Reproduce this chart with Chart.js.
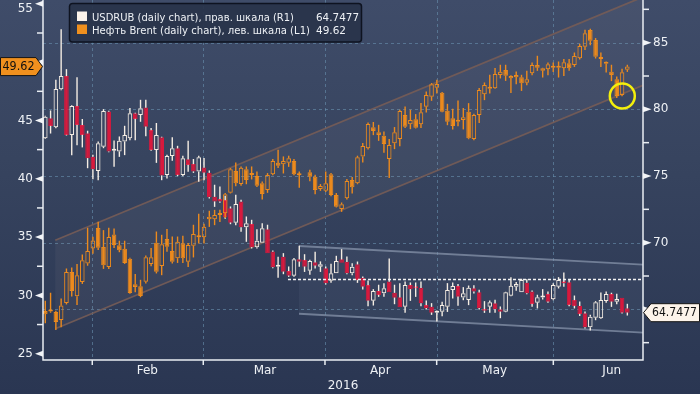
<!DOCTYPE html>
<html><head><meta charset="utf-8">
<script src="https://cdn.jsdelivr.net/npm/chart.js@4.4.1/dist/chart.umd.min.js"></script>
<style>html,body{margin:0;padding:0;background:#2c3955;}#wrap{width:700px;height:394px;}canvas{display:block;}</style>
</head><body><div id="wrap"><canvas id="c" width="700" height="394"></canvas></div>
<script>
// ---------- data ----------
const monthNames = ['Feb','Mar','Apr','May','Jun'];
const monthLabelPos = [19.28, 41.52, 63.31, 84.94, 107.05];
const monthStartPos = [8.88, 29.86, 52.86, 73.97, 96.01];
const yearLabel = '2016';
const leftTicks = [25,30,35,40,45,50,55];
const leftMinor = [27.5,32.5,37.5,42.5,47.5,52.5];
const rightTicks = [65,70,75,80,85];
const rightMinor = [62.5,67.5,72.5,77.5,82.5,87.5];

const rubName = 'USDRUB (daily chart), прав. шкала (R1)';
const brentName = 'Нефть Brent (daily chart), лев. шкала (L1)';

const rubOpen = [77.83,79.33,78.66,81.5,82.5,78.08,80.25,78.83,78.2,76.45,
75.38,77.2,79.83,76.9,76.83,77.58,77.83,79.7,79.58,80.13,
78.45,76.95,77.9,75.08,76.5,77.08,75.08,76.26,75.9,75.33,
75.63,75.25,73.45,73.28,73.2,72.58,71.5,73.08,71.15,71.4,
69.65,70.0,71.0,69.33,68.2,68.95,67.88,67.52,68.75,68.7,
67.9,68.53,68.2,68.08,67.15,67.7,68.75,68.57,67.7,68.38,
67.37,66.83,65.65,66.38,66.2,67.08,66.25,65.9,65.2,66.83,
66.63,66.62,65.33,65.2,64.75,64.82,65.2,66.45,66.75,65.88,
65.7,66.58,66.28,65.0,65.2,65.45,65.0,64.82,66.02,66.7,
66.28,67.0,66.33,65.5,65.88,66.15,65.75,66.7,67.05,67.03,
65.7,65.27,64.7,63.65,64.37,64.33,65.63,66.15,65.57,65.87,
65.08];
const rubHigh = [79.5,79.9,82.2,86.0,83.0,80.3,82.4,79.26,78.38,76.58,
77.58,80.0,79.88,77.65,77.95,78.75,80.08,79.73,80.7,80.7,
78.58,78.96,77.93,76.58,77.9,77.25,76.5,77.63,76.26,76.5,
76.33,75.4,74.33,74.2,73.5,72.7,73.58,73.2,71.95,71.7,
71.0,71.45,71.33,69.4,68.93,69.2,68.2,68.83,69.75,69.12,
68.7,69.3,68.58,68.2,68.4,69.0,69.5,68.95,68.45,68.57,
67.45,67.15,66.5,66.83,66.95,68.8,66.83,66.95,67.08,67.0,
67.0,67.08,65.65,65.45,64.9,65.55,66.95,67.0,66.88,66.65,
66.77,66.8,66.45,65.6,65.65,65.7,65.2,66.3,67.4,67.03,
67.28,67.25,66.4,66.08,66.5,66.33,66.95,67.4,67.75,67.2,
66.02,65.57,64.83,64.58,65.6,66.25,66.33,66.23,66.15,65.87,
65.4];
const rubLow = [77.8,78.2,78.6,81.45,78.05,76.58,77.33,77.16,75.6,74.78,
74.7,77.1,76.8,75.7,76.45,76.58,77.7,77.7,79.08,78.0,
76.9,76.0,74.7,74.83,76.15,75.0,75.0,75.33,75.25,74.58,
74.7,73.33,72.7,73.0,71.8,71.4,71.33,70.83,70.08,69.58,
69.58,70.0,69.2,68.1,67.38,67.65,67.45,67.45,68.2,67.82,
67.6,68.08,67.82,66.88,67.0,67.7,68.5,67.65,67.58,67.0,
66.5,65.25,65.3,65.95,65.95,66.28,65.4,65.15,64.75,65.65,
65.95,65.25,65.0,64.6,64.1,64.5,64.82,65.82,65.28,65.7,
65.33,66.2,65.0,64.75,64.75,64.75,64.35,64.8,66.0,66.4,
66.28,66.15,65.2,65.08,65.75,65.5,65.7,66.58,66.7,65.25,
65.08,64.52,63.58,63.43,64.2,64.3,65.5,65.2,65.4,64.7,
64.55];
const rubClose = [79.45,78.75,81.53,82.5,78.08,80.25,78.83,78.08,76.33,75.5,
77.46,79.88,76.83,76.95,77.65,78.08,79.7,79.28,80.08,78.7,
76.95,78.08,75.03,76.5,77.08,75.08,76.33,75.83,75.33,76.4,
75.25,73.4,73.08,73.08,71.9,71.5,72.9,71.15,71.45,69.65,
70.15,71.08,69.2,68.15,68.33,67.82,67.52,68.75,68.57,68.2,
68.63,68.27,68.38,66.95,67.7,68.63,68.5,67.7,68.2,67.2,
66.7,65.65,66.38,66.08,66.58,66.28,65.87,65.15,66.83,66.5,
66.58,65.45,65.08,64.75,64.87,65.33,66.45,66.75,65.95,66.2,
66.62,66.33,65.08,64.9,65.53,65.0,64.82,66.28,66.77,66.9,
67.2,66.2,65.4,65.9,66.0,65.57,66.83,67.2,66.95,65.33,
65.25,64.65,63.65,64.45,65.53,65.7,66.15,65.57,65.78,64.75,
64.7477];

const brentOpen = [28.66,28.62,28.58,27.89,29.35,32.01,29.92,31.15,32.74,34.02,
35.78,34.15,32.44,35.22,34.3,34.0,33.15,30.95,30.78,31.17,
32.69,34.52,32.52,34.84,33.81,33.18,34.47,32.89,34.26,34.98,
34.98,36.53,36.53,36.9,37.04,38.81,40.67,39.55,40.81,40.47,
40.24,39.61,39.04,40.39,41.38,41.24,41.38,41.53,40.41,null,
40.56,40.18,39.12,38.98,40.39,38.61,37.41,38.33,39.9,39.61,
41.9,42.62,44.42,43.99,43.7,41.7,43.04,43.41,45.47,44.67,
45.1,44.67,46.18,47.04,47.81,47.38,45.84,45.19,45.04,45.04,
45.75,43.41,45.47,47.25,47.73,47.76,48.9,49.33,48.62,48.9,
48.7,48.24,49.05,49.76,49.48,49.39,49.53,49.67,49.48,49.91,
49.76,50.33,51.33,52.76,51.9,50.38,49.87,49.18,48.53,47.19,
49.35];
const brentHigh = [29.52,30.21,28.66,29.72,32.29,32.38,32.67,33.49,35.78,35.01,
36.29,35.58,35.78,35.72,34.67,34.67,33.21,31.81,31.32,33.4,
34.04,35.46,35.18,35.67,35.03,35.03,35.09,34.47,36.04,36.98,
36.12,37.24,37.32,37.32,38.76,40.9,41.38,41.04,41.04,41.04,
40.61,39.75,40.47,41.67,42.47,41.9,41.96,41.67,40.61,null,
40.75,40.33,39.53,40.61,40.47,38.76,37.95,39.96,40.13,41.96,
43.04,44.81,44.85,44.61,44.04,43.39,44.42,45.9,46.18,45.9,
45.53,46.47,47.47,48.19,48.47,47.42,46.41,45.99,46.7,46.05,
46.47,45.56,47.76,48.24,48.9,49.48,49.76,49.76,48.86,49.18,
48.9,49.24,49.96,50.53,49.5,49.96,49.96,50.04,50.25,50.25,
50.81,51.56,52.76,52.85,52.05,50.81,50.04,49.76,48.76,49.42,
49.76];
const brentLow = [27.63,28.53,27.06,27.29,29.24,29.92,29.2,31.0,32.56,33.59,
33.92,32.29,32.29,34.09,33.72,32.72,30.16,30.29,29.86,31.04,
32.52,31.9,31.75,33.75,32.75,32.8,32.8,32.46,33.27,34.47,
34.47,35.89,36.04,36.32,36.66,38.76,39.38,39.41,39.55,39.96,
39.32,38.24,38.81,40.33,40.95,40.47,41.04,40.33,39.24,null,
39.81,38.7,38.98,38.89,38.52,37.56,37.18,38.24,38.76,39.55,
41.41,42.53,43.76,43.27,42.24,40.09,42.56,42.81,44.38,44.27,
44.33,44.38,45.7,46.7,47.33,45.73,44.61,44.25,44.53,44.25,
43.41,43.33,44.81,46.76,47.33,47.73,48.62,48.41,47.38,48.13,
47.55,48.04,48.9,49.27,48.7,48.9,49.18,48.7,48.84,49.27,
49.61,50.25,51.05,51.47,50.33,49.61,49.13,48.39,46.95,47.1,
49.18];
const brentClose = [28.38,28.68,27.72,29.13,32.01,30.38,31.72,33.01,33.81,34.71,
34.09,32.58,35.01,34.32,33.87,32.78,30.21,30.72,29.95,33.27,
33.27,32.03,34.38,34.18,32.89,34.6,33.18,34.32,35.27,35.09,
35.89,36.75,36.9,36.98,38.67,40.81,39.61,40.95,39.9,40.33,
39.41,38.7,40.33,41.53,41.12,41.53,41.76,40.39,40.3,null,
40.18,39.04,39.38,39.61,38.61,37.61,37.81,39.81,39.27,41.84,
42.81,44.7,44.1,43.76,42.98,42.9,43.99,45.81,44.47,45.04,
44.38,45.7,47.19,48.1,48.13,45.75,44.9,44.53,44.9,45.27,
43.47,45.47,47.61,48.04,47.81,48.99,49.18,48.84,48.82,48.7,
48.19,48.53,49.76,49.53,49.27,49.82,49.61,49.53,49.99,49.48,
50.53,51.39,52.48,51.84,50.47,50.27,49.96,48.9,47.1,49.13,
49.62];

// drawn annotations (data coordinates: candle index, axis value)
const brentChannel = {x0:1.89, x1:112.96, lower:[27.14,48.01], upper:[34.73,55.59]};
const rubChannel = {x0:47.95, x1:112.96, upper:[69.75,68.35], lower:[64.67,63.25]};
const rubResistance = {x0:45.87, x1:112.96, y:67.28};
const highlight = {x:109.05, y:47.1};

// ---------- styling ----------
const CREAM = '#f5ede3', RED = '#d8193d', ORANGE = '#ec8a1d', TXT = '#eef1f5';
const FONT = "'DejaVu Sans'";
const TOP_LABEL_MIN_Y = 9;

function buildCandles(O,H,L,C){
  const body=[], hi=[], lo=[];
  for(let i=0;i<O.length;i++){
    if(O[i]==null) continue;
    const top=Math.max(O[i],C[i]), bot=Math.min(O[i],C[i]), up=C[i]>=O[i];
    body.push({x:i,y:[O[i],C[i]],up});
    if(H[i]>top) hi.push({x:i,y:[top,H[i]]});
    if(L[i]<bot) lo.push({x:i,y:[L[i],bot]});
  }
  return {body,hi,lo};
}
const rub = buildCandles(rubOpen,rubHigh,rubLow,rubClose);
const brent = buildCandles(brentOpen,brentHigh,brentLow,brentClose);
const rubLast = rubClose[rubClose.length-1];
const brentLast = brentClose[brentClose.length-1];

function wickDs(data, axis, color, order){
  return {type:'bar', data, yAxisID:axis, xAxisID:'x', backgroundColor:color, borderWidth:0,
          barThickness:1, grouped:false, order, inflateAmount:0.2};
}
function bodyDs(label, data, axis, upColor, downColor, order){
  return {type:'bar', label, data, yAxisID:axis, xAxisID:'x',
    backgroundColor: c => (c.raw && c.raw.up) ? 'rgba(0,0,0,0)' : downColor,
    borderColor: c => (c.raw && c.raw.up) ? upColor : downColor,
    borderWidth:1, borderSkipped:false, inflateAmount:0,
    barThickness:4.6, minBarLength:2, grouped:false, order};
}

function hLine(ctx, a, y){ ctx.beginPath(); ctx.moveTo(a.left,y); ctx.lineTo(a.right,y); ctx.stroke(); }
function noPad(s){ s.paddingTop=0; s.paddingBottom=0; s.paddingLeft=0; s.paddingRight=0; }

const deco = {
  id:'deco',
  beforeDraw(chart){
    const {ctx, width, height} = chart;
    const g = ctx.createLinearGradient(0,0,0,height);
    g.addColorStop(0,'#3f4c69'); g.addColorStop(0.4,'#37445f'); g.addColorStop(1,'#2a3652');
    ctx.save(); ctx.fillStyle=g; ctx.fillRect(0,0,width,height); ctx.restore();
  },
  beforeDatasetsDraw(chart){
    const {ctx, chartArea:a, scales:{x, yL, yR}} = chart;
    ctx.save();
    ctx.beginPath(); ctx.rect(a.left,a.top,a.right-a.left,a.bottom-a.top); ctx.clip();
    ctx.strokeStyle='rgba(105,145,175,0.6)'; ctx.lineWidth=1; ctx.setLineDash([3,3]);
    rightTicks.forEach(v=>hLine(ctx,a,Math.round(yR.getPixelForValue(v))+0.5));
    monthStartPos.forEach(v=>{const px=Math.round(x.getPixelForValue(v))+0.5;
      ctx.beginPath(); ctx.moveTo(px,a.top); ctx.lineTo(px,a.bottom); ctx.stroke();});
    ctx.setLineDash([]);
    const bc = brentChannel;
    const P = (xi, v, s) => [x.getPixelForValue(xi), s.getPixelForValue(v)];
    let p1=P(bc.x0,bc.lower[0],yL), p2=P(bc.x1,bc.lower[1],yL), p3=P(bc.x1,bc.upper[1],yL), p4=P(bc.x0,bc.upper[0],yL);
    ctx.fillStyle='rgba(210,190,180,0.06)';
    ctx.beginPath(); ctx.moveTo(...p1); ctx.lineTo(...p2); ctx.lineTo(...p3); ctx.lineTo(...p4); ctx.closePath(); ctx.fill();
    ctx.strokeStyle='rgba(118,92,86,0.9)'; ctx.lineWidth=1.8;
    ctx.beginPath(); ctx.moveTo(...p1); ctx.lineTo(...p2); ctx.stroke();
    ctx.beginPath(); ctx.moveTo(...p4); ctx.lineTo(...p3); ctx.stroke();
    const rc = rubChannel;
    p1=P(rc.x0,rc.lower[0],yR); p2=P(rc.x1,rc.lower[1],yR); p3=P(rc.x1,rc.upper[1],yR); p4=P(rc.x0,rc.upper[0],yR);
    ctx.fillStyle='rgba(200,210,230,0.05)';
    ctx.beginPath(); ctx.moveTo(...p1); ctx.lineTo(...p2); ctx.lineTo(...p3); ctx.lineTo(...p4); ctx.closePath(); ctx.fill();
    ctx.strokeStyle='rgba(140,152,175,0.7)'; ctx.lineWidth=1.8;
    ctx.beginPath(); ctx.moveTo(...p1); ctx.lineTo(...p2); ctx.stroke();
    ctx.beginPath(); ctx.moveTo(...p4); ctx.lineTo(...p3); ctx.stroke();
    ctx.restore();
  },
  afterDatasetsDraw(chart){
    const {ctx, scales:{x, yL, yR}} = chart;
    ctx.save();
    const ry = Math.round(yR.getPixelForValue(rubResistance.y))+0.5;
    ctx.strokeStyle='#f4f4f4'; ctx.lineWidth=1.5; ctx.setLineDash([3,2]);
    ctx.beginPath(); ctx.moveTo(x.getPixelForValue(rubResistance.x0),ry); ctx.lineTo(x.getPixelForValue(rubResistance.x1),ry); ctx.stroke();
    ctx.setLineDash([]);
    ctx.strokeStyle='#f3ef0c'; ctx.lineWidth=2.5;
    ctx.beginPath(); ctx.arc(x.getPixelForValue(highlight.x), yL.getPixelForValue(highlight.y), 12.5, 0, Math.PI*2); ctx.stroke();
    ctx.restore();
  },
  afterDraw(chart){
    const {ctx, chartArea:a, scales:{x, yL, yR}} = chart;
    ctx.save();
    ctx.strokeStyle='#e9edf2'; ctx.fillStyle='#f2f4f7'; ctx.lineWidth=1.5;
    ctx.beginPath(); ctx.moveTo(a.left,a.top); ctx.lineTo(a.left,a.bottom); ctx.lineTo(a.right,a.bottom); ctx.lineTo(a.right,a.top); ctx.stroke();
    leftMinor.forEach(v=>{const y=yL.getPixelForValue(v); ctx.beginPath(); ctx.moveTo(a.left-6,y); ctx.lineTo(a.left,y); ctx.stroke();});
    rightMinor.forEach(v=>{const y=yR.getPixelForValue(v); ctx.beginPath(); ctx.moveTo(a.right,y); ctx.lineTo(a.right+6,y); ctx.stroke();});
    monthStartPos.forEach(v=>{const px=x.getPixelForValue(v); ctx.beginPath(); ctx.moveTo(px,a.bottom); ctx.lineTo(px,a.bottom+5); ctx.stroke();});
    leftTicks.forEach(v=>{const y=yL.getPixelForValue(v); ctx.beginPath(); ctx.moveTo(a.left-8,y); ctx.lineTo(a.left,y-3); ctx.lineTo(a.left,y+3); ctx.closePath(); ctx.fill();});
    rightTicks.forEach(v=>{const y=yR.getPixelForValue(v); ctx.beginPath(); ctx.moveTo(a.right,y-3); ctx.lineTo(a.right+8.5,y); ctx.lineTo(a.right,y+3); ctx.closePath(); ctx.fill();});
    // tick labels too close to the top edge are drawn slightly lower (as in the reference)
    ctx.font='12px '+FONT; ctx.textAlign='right'; ctx.textBaseline='middle'; ctx.fillStyle=TXT;
    leftTicks.forEach(v=>{const y=yL.getPixelForValue(v); if (y < TOP_LABEL_MIN_Y) ctx.fillText(String(v), a.left-10, TOP_LABEL_MIN_Y);});
    // last value labels
    ctx.lineWidth=1; ctx.strokeStyle='#151515';
    let cy = yL.getPixelForValue(brentLast);
    ctx.fillStyle='#f0901e';
    ctx.beginPath(); ctx.moveTo(0.5,cy-9); ctx.lineTo(36,cy-9); ctx.lineTo(a.left-0.5,cy); ctx.lineTo(36,cy+9); ctx.lineTo(0.5,cy+9); ctx.closePath(); ctx.fill(); ctx.stroke();
    ctx.fillStyle='#111'; ctx.font='12.5px '+FONT; ctx.textAlign='center'; ctx.textBaseline='middle';
    ctx.fillText(brentLast.toFixed(2), 18.5, cy+0.5, 32);
    cy = yR.getPixelForValue(rubLast);
    ctx.fillStyle='#fdf4ea';
    ctx.beginPath(); ctx.moveTo(a.right+0.5,cy); ctx.lineTo(651,cy-9); ctx.lineTo(699.5,cy-9); ctx.lineTo(699.5,cy+9); ctx.lineTo(651,cy+9); ctx.closePath(); ctx.fill(); ctx.stroke();
    ctx.fillStyle='#111';
    ctx.fillText(String(rubLast), 674.5, cy+0.5, 45);
    // legend
    ctx.fillStyle='rgba(40,51,74,0.92)'; ctx.strokeStyle='#0e1320'; ctx.lineWidth=1.5;
    ctx.beginPath();
    if (ctx.roundRect) ctx.roundRect(69.5,3.5,292,38.5,3); else ctx.rect(69.5,3.5,292,38.5);
    ctx.fill(); ctx.stroke();
    ctx.fillStyle='#fbf3ea'; ctx.fillRect(77,11.5,10,9.5);
    ctx.fillStyle='#f0901e'; ctx.fillRect(77,24.5,10,9.5);
    ctx.fillStyle=TXT; ctx.font='11px '+FONT; ctx.textAlign='left'; ctx.textBaseline='alphabetic';
    ctx.fillText(rubName, 92, 21, 202);
    ctx.fillText(brentName, 92, 34, 218);
    ctx.fillText(String(rubLast), 316, 21, 43);
    ctx.fillText(brentLast.toFixed(2), 316, 34, 30);
    ctx.restore();
  }
};

new Chart(document.getElementById('c'), {
  type:'bar',
  data:{ datasets:[
    wickDs(brent.hi,'yL',ORANGE,0), wickDs(brent.lo,'yL',ORANGE,0),
    bodyDs('Brent', brent.body,'yL',ORANGE,ORANGE,0),
    wickDs(rub.hi,'yR',CREAM,1), wickDs(rub.lo,'yR',CREAM,1),
    bodyDs('USDRUB', rub.body,'yR',CREAM,RED,1)
  ]},
  options:{
    responsive:false, devicePixelRatio:1, animation:false, events:[],
    layout:{padding:0, autoPadding:false},
    plugins:{legend:{display:false}, tooltip:{enabled:false}},
    scales:{
      x:{type:'linear', position:'bottom', min:-0.43, max:112.96, offset:false,
         grid:{display:false, drawTicks:false}, border:{display:false},
         afterBuildTicks: s => { s.ticks = monthLabelPos.map(v=>({value:v})); },
         afterFit: s => { s.height = 34; noPad(s); },
         ticks:{autoSkip:false, maxRotation:0, padding:4, color:TXT, font:{family:FONT, size:12},
                callback:(v,i)=>monthNames[i]},
         title:{display:true, text:yearLabel, color:TXT, font:{family:FONT, size:12}, padding:{top:0,bottom:1}}},
      yL:{type:'linear', position:'left', min:24.46, max:55.33,
          grid:{display:false, drawTicks:false}, border:{display:false},
          afterBuildTicks: s => { s.ticks = leftTicks.map(v=>({value:v})); },
          afterFit: s => { s.width = 43; noPad(s); },
          ticks:{padding:10, color:TXT, font:{family:FONT, size:12},
                 callback: function(v){
                   if (Math.abs(v-brentLast) < 1.2) return '';
                   if (this.getPixelForValue(v) < TOP_LABEL_MIN_Y) return '';
                   return String(v);
                 }}},
      yR:{type:'linear', position:'right', min:61.2, max:88.2,
          grid:{display:false, drawTicks:false}, border:{display:false},
          afterBuildTicks: s => { s.ticks = rightTicks.map(v=>({value:v})); },
          afterFit: s => { s.width = 57; noPad(s); },
          ticks:{padding:10, color:TXT, font:{family:FONT, size:12},
                 callback: v => Math.abs(v-rubLast)<1.2 ? '' : String(v)}}
    }
  },
  plugins:[deco]
});
</script></body></html>
